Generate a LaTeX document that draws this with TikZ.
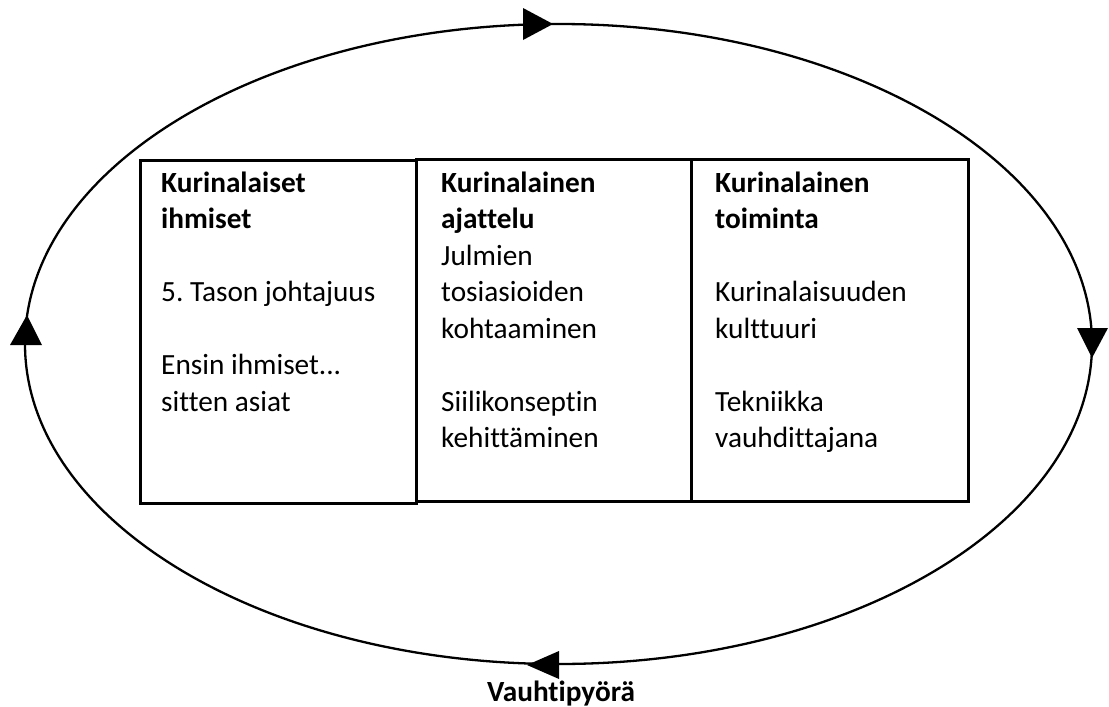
\documentclass[tikz,border=0pt]{standalone}
\usepackage{fontspec}
\setmainfont[Ligatures=NoCommon]{Carlito}
\frenchspacing
\begin{document}
\begin{tikzpicture}[x=1pt,y=-1pt,
  txt/.style={inner sep=0pt, anchor=base west, font=\fontsize{29.3}{36.5}\selectfont},
  boxframe/.style={draw, line width=2.8pt, inner sep=0pt},
  wheelline/.style={line width=2.3pt},
  head/.style={fill=black}]
\useasboundingbox (0,0) rectangle (1109,707);
% wheel
\draw[wheelline] (558.5,344) ellipse [x radius=533.5pt, y radius=320pt];
% arrowheads
\fill[head] (523,8) -- (553,24) -- (523,40) -- cycle;
\fill[head] (1077,328) -- (1092,358) -- (1108,328) -- cycle;
\fill[head] (559,651) -- (527,665) -- (559,679) -- cycle;
\fill[head] (10,345) -- (27,315) -- (42,345) -- cycle;
% boxes
\node[boxframe, minimum width=276pt, minimum height=343pt, anchor=north west] (b1) at (139,159) {};
\node[boxframe, minimum width=275pt, minimum height=342pt, anchor=north west] (b2) at (415,158) {};
\node[boxframe, minimum width=277pt, minimum height=342pt, anchor=north west] (b3) at (690,158) {};
% texts
\node[txt] (t1) at (161,192) {\parbox[t]{245pt}{\raggedright\fontsize{29.3}{36.5}\selectfont
 \textbf{Kurinalaiset}\\ \textbf{ihmiset}\\ \mbox{}\\ 5. Tason johtajuus\\ \mbox{}\\ Ensin ihmiset...\\ sitten asiat}};
\node[txt] (t2) at (441,192) {\parbox[t]{245pt}{\raggedright\fontsize{29.3}{36.5}\selectfont
 \textbf{Kurinalainen}\\ \textbf{ajattelu}\\ Julmien\\ tosiasioiden\\ kohtaaminen\\ \mbox{}\\ Siilikonseptin\\ kehittäminen}};
\node[txt] (t3) at (715,192) {\parbox[t]{245pt}{\raggedright\fontsize{29.3}{36.5}\selectfont
 \textbf{Kurinalainen}\\ \textbf{toiminta}\\ \mbox{}\\ Kurinalaisuuden\\ kulttuuri\\ \mbox{}\\ Tekniikka\\ vauhdittajana}};
\node[inner sep=0pt, anchor=base, font=\fontsize{29.3}{36.5}\selectfont\bfseries] (lbl) at (561,701) {Vauhtipyörä};
\end{tikzpicture}
\end{document}
